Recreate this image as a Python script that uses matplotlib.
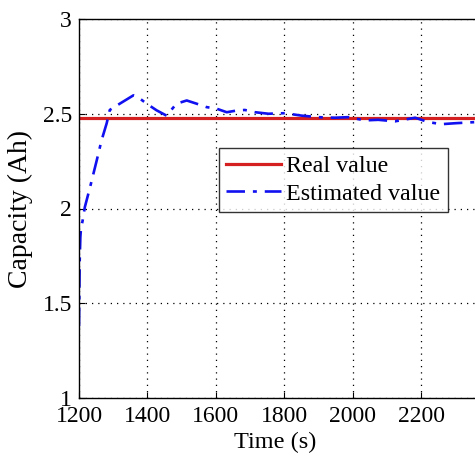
import matplotlib
matplotlib.use("Agg")
import matplotlib.pyplot as plt
import numpy as np

# capacity estimation vs. time
real_value = 2.477
t_est = [1200, 1201, 1202, 1204, 1206, 1210, 1217, 1232, 1252, 1266, 1281, 1290, 1320,
         1359, 1378, 1398, 1427, 1456, 1485, 1515, 1544, 1573, 1602, 1632, 1661, 1685,
         1715, 1754, 1802, 1851, 1900, 1948, 1987, 2036, 2075, 2124, 2183, 2221, 2260,
         2300, 2360, 2400]
cap_est = [1.38, 1.55, 1.72, 1.85, 1.90, 1.93, 2.007, 2.11, 2.255, 2.36, 2.45, 2.52, 2.554,
           2.597, 2.58, 2.553, 2.518, 2.49, 2.553, 2.57, 2.553, 2.535, 2.527, 2.508, 2.517, 2.52,
           2.508, 2.50, 2.503, 2.49, 2.482, 2.479, 2.482, 2.465, 2.468, 2.46, 2.479, 2.456, 2.445,
           2.45, 2.456, 2.455]
xticks = [1200, 1400, 1600, 1800, 2000, 2200]
yticks = [1, 1.5, 2, 2.5, 3]

plt.rcParams.update({"font.family": "Liberation Serif", "font.size": 17})
fig = plt.figure(figsize=(4.75, 4.58), dpi=100)
ax = fig.add_axes([79 / 475, 1 - 398 / 458, (489.4 - 79) / 475, (398 - 19) / 458])

ax.plot([1200, 2400], [real_value, real_value], color="#d42020", lw=2.3, label="Real value")
ax.plot(t_est, cap_est, color="#1010f0", lw=1.9, ls=(0, (7, 3, 1.5, 3)), label="Estimated value")

ax.set_xlim(1200, 2400)
ax.set_ylim(1, 3)
ax.set_xticks(xticks)
ax.set_yticks(yticks)
ax.set_yticklabels(["1", "1.5", "2", "2.5", "3"])
ax.grid(True, color="k", ls=(0, (1, 4)), lw=0.9)
ax.tick_params(direction="in", length=4, width=0.8, labelsize=17)
ax.tick_params(axis="x", pad=6)
ax.tick_params(axis="y", pad=5)
for s in ax.spines.values():
    s.set_linewidth(1.0)
ax.set_xlabel("Time (s)", fontsize=17.5)
ax.set_ylabel("Capacity (Ah)", fontsize=20)
ax.xaxis.set_label_coords(0.478, -0.09)
ax.yaxis.set_label_coords(-0.112, 0.5)

leg = ax.legend(loc="upper left", bbox_to_anchor=((219 - 79) / 410.4, 1 - (148 - 19) / 379),
                fontsize=17.3, frameon=True, fancybox=False, edgecolor="k",
                handlelength=2.3, handletextpad=0.2, borderpad=0.3, labelspacing=0.25,
                borderaxespad=0)
leg.get_frame().set_linewidth(1.0)

fig.savefig("out.png", dpi=100)
